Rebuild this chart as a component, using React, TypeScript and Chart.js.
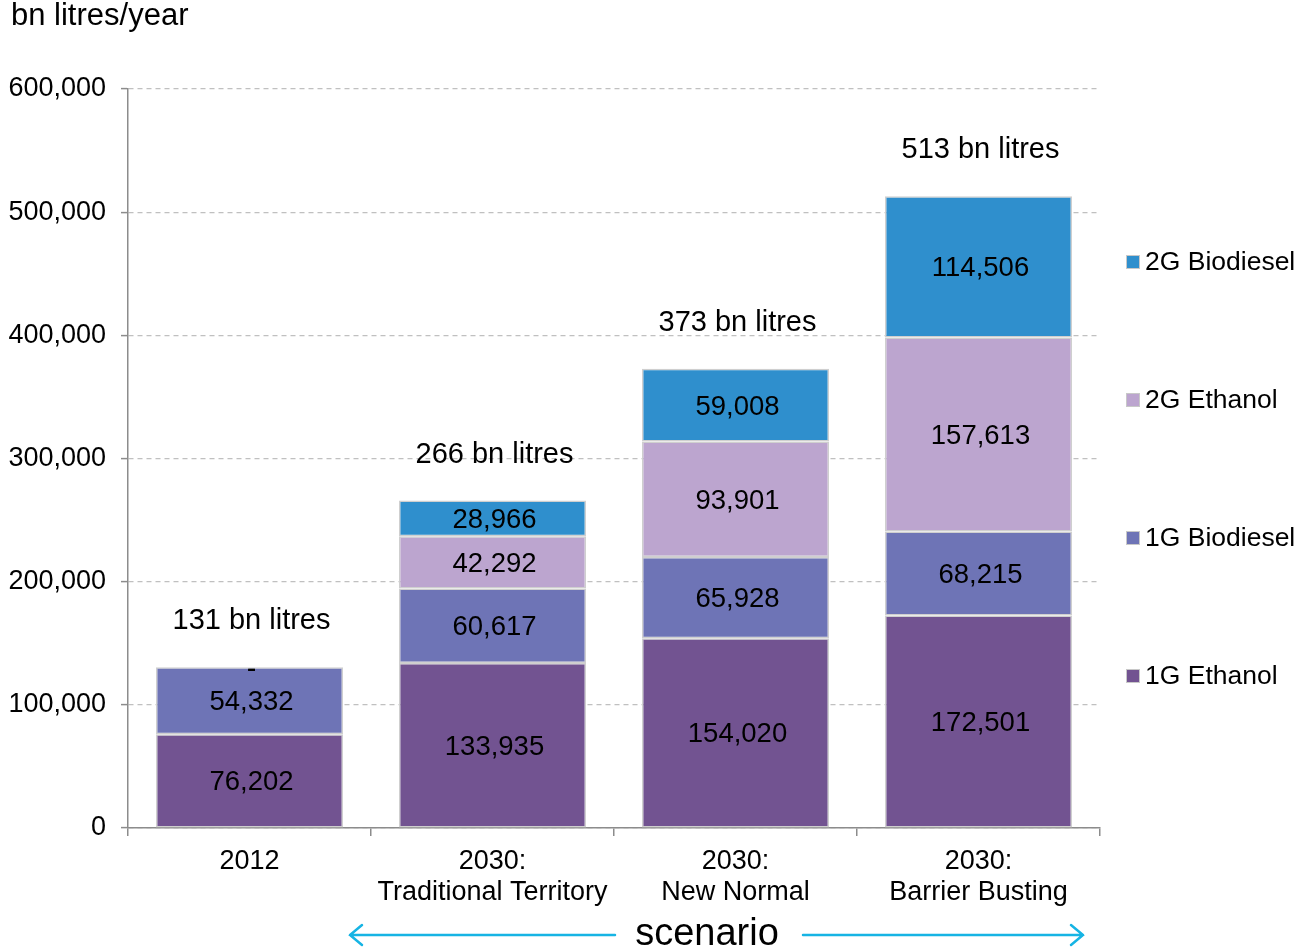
import React, { useEffect, useRef } from "react";
import { Chart, registerables } from "chart.js";

Chart.register(...registerables);

const categories: string[][] = [
  ["2012"],
  ["2030:", "Traditional Territory"],
  ["2030:", "New Normal"],
  ["2030:", "Barrier Busting"],
];
const ethanol1G = [76202, 133935, 154020, 172501];
const biodiesel1G = [54332, 60617, 65928, 68215];
const ethanol2G = [0, 42292, 93901, 157613];
const biodiesel2G = [0, 28966, 59008, 114506];
const yTicks = [0, 100000, 200000, 300000, 400000, 500000, 600000];

const seriesNames = ["1G Ethanol", "1G Biodiesel", "2G Ethanol", "2G Biodiesel"];
const seriesColors = ["#725391", "#6e74b6", "#bca5cf", "#2f8fcd"];

const FONT = "'Liberation Sans', Arial, sans-serif";

const overlayPlugin = {
  id: "overlay",
  afterDatasetsDraw(chart: any) {
    const ctx: CanvasRenderingContext2D = chart.ctx;
    ctx.save();
    // segment value labels
    ctx.fillStyle = "#000";
    ctx.textAlign = "center";
    ctx.textBaseline = "middle";
    ctx.font = `27.5px ${FONT}`;
    chart.data.datasets.forEach((ds: any, di: number) => {
      const meta = chart.getDatasetMeta(di);
      meta.data.forEach((bar: any, i: number) => {
        const v = ds.data[i];
        const txt = v === 0 ? "-" : v.toLocaleString("en-US");
        const cy = (bar.y + bar.base) / 2;
        ctx.fillText(txt, bar.x + 2, cy + 2);
      });
    });
    // totals
    ctx.font = `29px ${FONT}`;
    const yScale = chart.scales.y;
    const xScale = chart.scales.x;
    categories.forEach((_, i) => {
      const total = ethanol1G[i] + biodiesel1G[i] + ethanol2G[i] + biodiesel2G[i];
      const top = yScale.getPixelForValue(total);
      ctx.fillText(`${Math.round(total / 1000)} bn litres`, xScale.getPixelForValue(i) + 2, top - 46);
    });
    ctx.restore();
  },
  afterDraw(chart: any) {
    const ctx: CanvasRenderingContext2D = chart.ctx;
    const area = chart.chartArea;
    ctx.save();
    // unit title
    ctx.fillStyle = "#000";
    ctx.font = `31px ${FONT}`;
    ctx.textAlign = "left";
    ctx.textBaseline = "middle";
    ctx.fillText("bn litres/year", 11, 16);

    // legend (reverse order, top to bottom)
    ctx.font = `26.5px ${FONT}`;
    const lx = area.right + 26;
    const legendTop = 262;
    const legendGap = 138;
    for (let k = 0; k < 4; k++) {
      const si = 3 - k;
      const cy = legendTop + k * legendGap;
      ctx.fillStyle = seriesColors[si];
      ctx.fillRect(lx, cy - 7, 14, 14);
      ctx.strokeStyle = "#c8c8c8";
      ctx.lineWidth = 1;
      ctx.strokeRect(lx + 0.5, cy - 6.5, 13, 13);
      ctx.fillStyle = "#000";
      ctx.fillText(seriesNames[si], lx + 19, cy + 1);
    }

    // scenario arrows
    const ay = 935;
    ctx.font = `38px ${FONT}`;
    ctx.textAlign = "center";
    ctx.fillText("scenario", 707, ay);
    ctx.strokeStyle = "#16b4e4";
    ctx.lineWidth = 2.5;
    ctx.lineCap = "round";
    ctx.beginPath();
    ctx.moveTo(350, ay);
    ctx.lineTo(615, ay);
    ctx.moveTo(362, ay - 10);
    ctx.lineTo(350, ay);
    ctx.lineTo(362, ay + 10);
    ctx.moveTo(803, ay);
    ctx.lineTo(1083, ay);
    ctx.moveTo(1071, ay - 10);
    ctx.lineTo(1083, ay);
    ctx.lineTo(1071, ay + 10);
    ctx.stroke();
    ctx.restore();
  },
};

export default function App() {
  const ref = useRef<HTMLCanvasElement | null>(null);
  useEffect(() => {
    if (!ref.current) return;
    const data = [ethanol1G, biodiesel1G, ethanol2G, biodiesel2G];
    const chart = new Chart(ref.current, {
      type: "bar",
      data: {
        labels: categories,
        datasets: data.map((d, i) => ({
          label: seriesNames[i],
          data: d,
          backgroundColor: seriesColors[i],
          borderColor: "#cfcfcf",
          borderWidth: 1.5,
          borderSkipped: false,
          categoryPercentage: 1,
          barPercentage: 0.77,
        })),
      },
      options: {
        responsive: false,
        animation: false,
        devicePixelRatio: 1,
        layout: { padding: { left: 0, right: 194, top: 89, bottom: 0 } },
        plugins: {
          legend: { display: false },
          tooltip: { enabled: false },
          title: { display: false },
        },
        scales: {
          x: {
            stacked: true,
            grid: {
              display: true,
              drawOnChartArea: false,
              drawTicks: true,
              tickLength: 8,
              offset: true,
              color: "#8c8c8c",
              lineWidth: 1.5,
            },
            border: { color: "#8c8c8c", width: 1.5 },
            ticks: {
              color: "#000",
              font: { family: FONT, size: 27, lineHeight: 1.15 },
              padding: 10,
              maxRotation: 0,
              autoSkip: false,
            },
            afterFit(scale: any) {
              scale.height = 123;
            },
          },
          y: {
            stacked: true,
            min: 0,
            max: 600000,
            afterBuildTicks(scale: any) {
              scale.ticks = yTicks.map((v) => ({ value: v }));
            },
            grid: {
              color: "#c0c0c0",
              lineWidth: 1.2,
              tickLength: 7,
              tickColor: "#8c8c8c",
              tickBorderDash: [],
              tickWidth: 1.5,
            },
            border: { color: "#8c8c8c", width: 1.5, dash: [5, 4], display: true },
            ticks: {
              color: "#000",
              font: { family: FONT, size: 27 },
              padding: 15,
              callback: (v: any) => Number(v).toLocaleString("en-US"),
            },
            afterFit(scale: any) {
              scale.width = 128;
            },
          },
        },
      },
      plugins: [overlayPlugin],
    } as any);
    return () => chart.destroy();
  }, []);
  return (
    <div style={{ position: "absolute", left: 0, top: 0, width: 1294, height: 951, background: "#fff" }}>
      <canvas ref={ref} width={1294} height={951} />
    </div>
  );
}
